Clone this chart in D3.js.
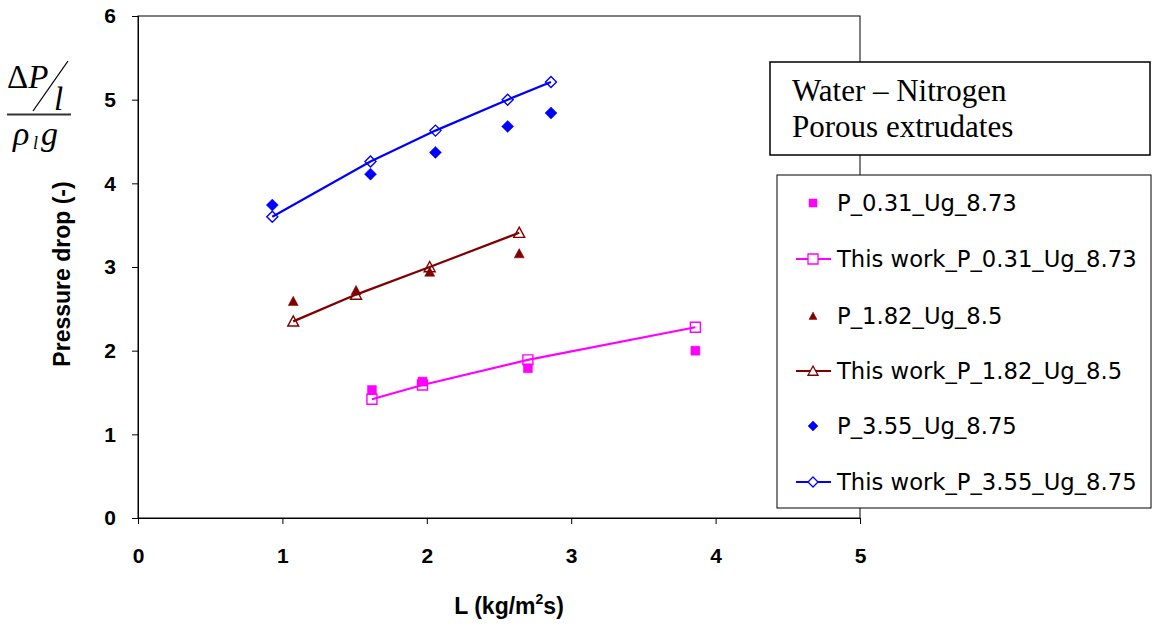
<!DOCTYPE html>
<html>
<head>
<meta charset="utf-8">
<script src="https://cdn.jsdelivr.net/npm/d3@7/dist/d3.min.js"></script>
<style>
html,body{margin:0;padding:0;background:#fff;}
svg{display:block;}
</style>
</head>
<body>
<svg id="chart" width="1152" height="630"></svg>
<script>
// ---- data ----
const xTicks = [0, 1, 2, 3, 4, 5];
const yTicks = [0, 1, 2, 3, 4, 5, 6];

const seriesNames = [
  "P_0.31_Ug_8.73",
  "This work_P_0.31_Ug_8.73",
  "P_1.82_Ug_8.5",
  "This work_P_1.82_Ug_8.5",
  "P_3.55_Ug_8.75",
  "This work_P_3.55_Ug_8.75"
];

const p031_L = [1.62, 1.97, 2.70, 3.86];
const p031_exp = [1.53, 1.63, 1.79, 2.00];
const p031_model = [1.42, 1.59, 1.89, 2.28];

const p182_L = [1.075, 1.51, 2.02, 2.64];
const p182_exp = [2.59, 2.72, 2.94, 3.16];
const p182_model = [2.35, 2.67, 3.00, 3.41];

const p355_L = [0.93, 1.61, 2.06, 2.56, 2.86];
const p355_exp = [3.74, 4.11, 4.37, 4.68, 4.84];
const p355_model = [3.60, 4.26, 4.63, 5.00, 5.21];

// ---- setup ----
const svg = d3.select("#chart");
const x = d3.scaleLinear().domain([0, 5]).range([138, 860]);
const y = d3.scaleLinear().domain([0, 6]).range([518, 16]);

const PINK = "#ff00ff", RED = "#800000", BLUE = "#0000ff";

const series = [
  {name: seriesNames[0], xs: p031_L, ys: p031_exp, color: PINK, type: "square", filled: true, line: false, size: 9},
  {name: seriesNames[1], xs: p031_L, ys: p031_model, color: PINK, type: "square", filled: false, line: true, size: 10},
  {name: seriesNames[2], xs: p182_L, ys: p182_exp, color: RED, type: "triangle", filled: true, line: false, size: 10},
  {name: seriesNames[3], xs: p182_L, ys: p182_model, color: RED, type: "triangle", filled: false, line: true, size: 11},
  {name: seriesNames[4], xs: p355_L, ys: p355_exp, color: BLUE, type: "diamond", filled: true, line: false, size: 12},
  {name: seriesNames[5], xs: p355_L, ys: p355_model, color: BLUE, type: "diamond", filled: false, line: true, size: 11}
];

function markerPath(type, s) {
  const h = s / 2;
  if (type === "square") return `M${-h},${-h}H${h}V${h}H${-h}Z`;
  if (type === "diamond") return `M0,${-h}L${h},0L0,${h}L${-h},0Z`;
  return `M0,${-h}L${h},${h * 0.85}L${-h},${h * 0.85}Z`;
}

// plot frame
svg.append("rect").attr("x", x(0)).attr("y", y(6))
  .attr("width", x(5) - x(0)).attr("height", y(0) - y(6))
  .attr("fill", "none").attr("stroke", "#000").attr("stroke-width", 1);

// axes
const fontAxis = "'Liberation Sans', Arial, sans-serif";
const xAxis = svg.append("g").attr("transform", `translate(0,${y(0)})`)
  .call(d3.axisBottom(x).tickValues(xTicks).tickSize(6).tickPadding(24).tickFormat(d3.format("d")));
const yAxis = svg.append("g").attr("transform", `translate(${x(0)},0)`)
  .call(d3.axisLeft(y).tickValues(yTicks).tickSize(6).tickPadding(16).tickFormat(d3.format("d")));
[xAxis, yAxis].forEach(g => {
  g.selectAll("text").attr("font-family", fontAxis).attr("font-weight", "bold")
    .attr("font-size", 21).attr("fill", "#000");
  g.selectAll("line").attr("stroke", "#000");
  g.select(".domain").attr("stroke", "#000");
});

// series
series.forEach(s => {
  const pts = s.xs.map((v, i) => [v, s.ys[i]]);
  if (s.line) {
    svg.append("path").datum(pts)
      .attr("d", d3.line().x(d => x(d[0])).y(d => y(d[1])))
      .attr("fill", "none").attr("stroke", s.color).attr("stroke-width", 2.2);
  }
  svg.append("g").selectAll("path").data(pts).join("path")
    .attr("transform", d => `translate(${x(d[0])},${y(d[1])})`)
    .attr("d", markerPath(s.type, s.size))
    .attr("fill", s.filled ? s.color : "#fff")
    .attr("fill-opacity", s.filled ? 1 : 0)
    .attr("stroke", s.color).attr("stroke-width", s.filled ? 0.5 : 1.4);
});

// axis titles
svg.append("text").attr("x", 509).attr("y", 614).attr("text-anchor", "middle")
  .attr("font-family", fontAxis).attr("font-weight", "bold").attr("font-size", 23)
  .call(t => {
    t.append("tspan").text("L (kg/m");
    t.append("tspan").attr("font-size", 14).attr("dy", -10).text("2");
    t.append("tspan").attr("dy", 10).text("s)");
  });

svg.append("text").attr("transform", "translate(70,274) rotate(-90)").attr("text-anchor", "middle")
  .attr("font-family", fontAxis).attr("font-weight", "bold").attr("font-size", 23)
  .text("Pressure drop (-)");

// formula label
const serif = "'Liberation Serif', 'Times New Roman', serif";
const f = svg.append("g").attr("font-family", serif).attr("fill", "#000");
f.append("text").attr("x", 7).attr("y", 88).attr("font-size", 33)
  .call(t => { t.append("tspan").text("Δ"); t.append("tspan").attr("font-style", "italic").text("P"); });
f.append("line").attr("x1", 68).attr("y1", 61).attr("x2", 33).attr("y2", 111)
  .attr("stroke", "#000").attr("stroke-width", 1.3);
f.append("text").attr("x", 54).attr("y", 110).attr("font-size", 33).attr("font-style", "italic").text("l");
f.append("line").attr("x1", 7).attr("x2", 71).attr("y1", 114.5).attr("y2", 114.5)
  .attr("stroke", "#333").attr("stroke-width", 2);
f.append("text").attr("x", 13).attr("y", 145).attr("font-size", 34).attr("font-style", "italic").text("ρ");
f.append("text").attr("x", 33).attr("y", 149).attr("font-size", 18).attr("font-style", "italic").text("l");
f.append("text").attr("x", 41).attr("y", 145).attr("font-size", 34).attr("font-style", "italic").text("g");

// title box
svg.append("rect").attr("x", 770).attr("y", 62).attr("width", 380).attr("height", 93)
  .attr("fill", "#fff").attr("stroke", "#000").attr("stroke-width", 1.5);
svg.append("text").attr("x", 792).attr("y", 101).attr("font-family", serif).attr("font-size", 31).text("Water – Nitrogen");
svg.append("text").attr("x", 792).attr("y", 137).attr("font-family", serif).attr("font-size", 31).text("Porous extrudates");

// legend
const legendY = [203, 259, 316, 371, 426, 482];
svg.append("rect").attr("x", 777).attr("y", 175).attr("width", 374).attr("height", 333)
  .attr("fill", "#fff").attr("stroke", "#000").attr("stroke-width", 1);
const lg = svg.append("g").selectAll("g").data(series).join("g")
  .attr("transform", (d, i) => `translate(0,${legendY[i]})`);
lg.filter(d => d.line).append("line").attr("x1", 796).attr("x2", 831).attr("y1", 0).attr("y2", 0)
  .attr("stroke", d => d.color).attr("stroke-width", 2.2);
lg.append("path").attr("transform", "translate(813,0)")
  .attr("d", d => markerPath(d.type, d.filled ? (d.type === "diamond" ? 10 : 8) : 10))
  .attr("fill", d => d.filled ? d.color : "#fff")
  .attr("stroke", d => d.color).attr("stroke-width", d => d.filled ? 0.5 : 1.3);
lg.append("text").attr("x", 837).attr("y", 0).attr("dy", "0.36em")
  .attr("font-family", "'DejaVu Sans', Verdana, sans-serif").attr("font-size", 22.7).attr("fill", "#000")
  .text(d => d.name);
</script>
</body>
</html>
